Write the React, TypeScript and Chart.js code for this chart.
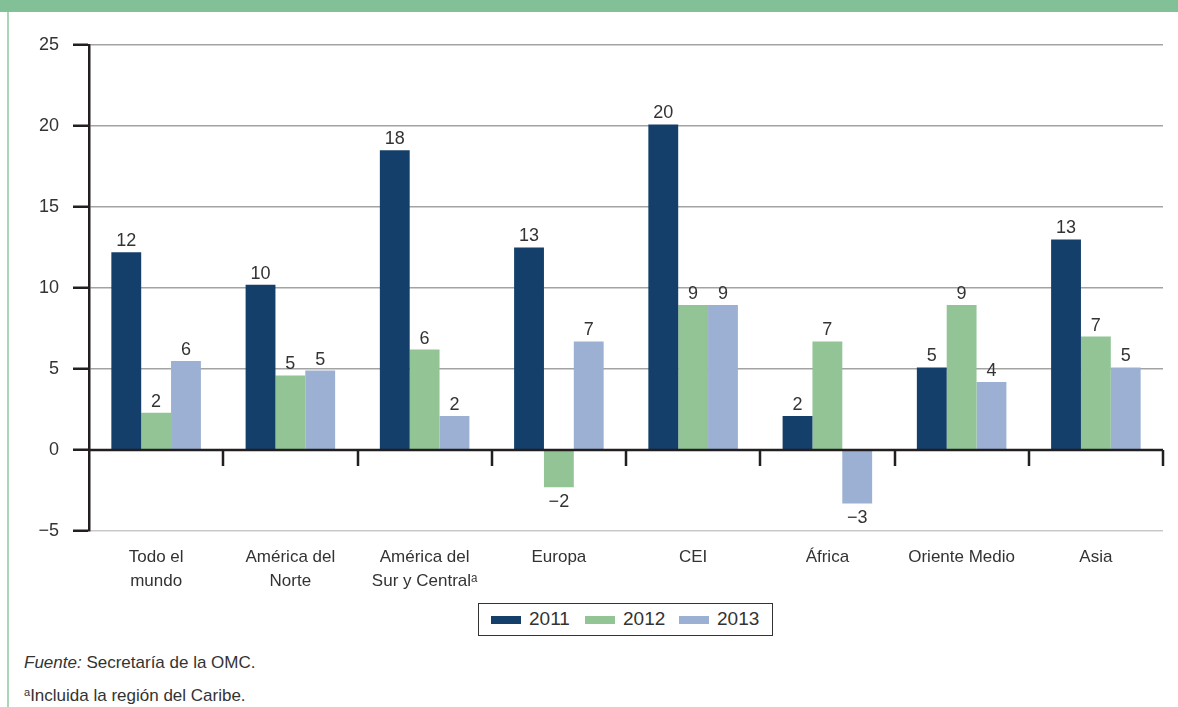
import React, { useEffect, useRef } from "react";
import { Chart, registerables } from "chart.js";

Chart.register(...registerables);

const categories: (string | string[])[] = [
  ["Todo el", "mundo"],
  ["América del", "Norte"],
  ["América del", "Sur y Centralᵃ"],
  "Europa",
  "CEI",
  "África",
  "Oriente Medio",
  "Asia",
];

const seriesNames = ["2011", "2012", "2013"];
const seriesColors = ["#143f6a", "#92c495", "#9bb0d2"];

const values2011 = [12.2, 10.2, 18.5, 12.5, 20.1, 2.1, 5.1, 13.0];
const values2012 = [2.3, 4.6, 6.2, -2.3, 8.95, 6.7, 8.95, 7.0];
const values2013 = [5.5, 4.9, 2.1, 6.7, 8.95, -3.3, 4.2, 5.1];

const labels2011 = ["12", "10", "18", "13", "20", "2", "5", "13"];
const labels2012 = ["2", "5", "6", "−2", "9", "7", "9", "7"];
const labels2013 = ["6", "5", "2", "7", "9", "−3", "4", "5"];

const yTicks = [-5, 0, 5, 10, 15, 20, 25];

const FONT = "'Liberation Sans', 'DejaVu Sans', Arial, sans-serif";

const allValues = [values2011, values2012, values2013];
const allLabels = [labels2011, labels2012, labels2013];

const zeroAxisPlugin = {
  id: "zeroAxis",
  afterDatasetsDraw(chart: any) {
    const { ctx, chartArea, scales } = chart;
    const y0 = scales.y.getPixelForValue(0);
    const n = categories.length;
    const w = (chartArea.right - chartArea.left) / n;
    ctx.save();
    ctx.strokeStyle = "#231f20";
    ctx.lineWidth = 2.5;
    ctx.beginPath();
    ctx.moveTo(chartArea.left, y0);
    ctx.lineTo(chartArea.right, y0);
    for (let i = 1; i <= n; i++) {
      const x = Math.round(chartArea.left + i * w);
      ctx.moveTo(x, y0);
      ctx.lineTo(x, y0 + 16);
    }
    ctx.stroke();
    ctx.restore();
  },
};

const dataLabelPlugin = {
  id: "dataLabels",
  afterDatasetsDraw(chart: any) {
    const { ctx } = chart;
    ctx.save();
    ctx.font = `18px ${FONT}`;
    ctx.fillStyle = "#333333";
    ctx.textAlign = "center";
    chart.data.datasets.forEach((ds: any, di: number) => {
      const meta = chart.getDatasetMeta(di);
      meta.data.forEach((bar: any, i: number) => {
        const v = allValues[di][i];
        const txt = allLabels[di][i];
        if (v >= 0) {
          ctx.textBaseline = "bottom";
          ctx.fillText(txt, bar.x, bar.y - 2);
        } else {
          ctx.textBaseline = "top";
          ctx.fillText(txt, bar.x, bar.y + 6);
        }
      });
    });
    ctx.restore();
  },
};

function BarChart() {
  const ref = useRef<HTMLCanvasElement>(null);
  useEffect(() => {
    if (!ref.current) return;
    const chart = new Chart(ref.current, {
      type: "bar",
      data: {
        labels: categories,
        datasets: seriesNames.map((name, i) => ({
          label: name,
          data: allValues[i],
          backgroundColor: seriesColors[i],
          borderWidth: 0,
          barPercentage: 1,
          categoryPercentage: 0.667,
        })),
      },
      options: {
        animation: false,
        responsive: false,
        maintainAspectRatio: false,
        layout: { padding: { left: 0, right: 15, top: 45, bottom: 0 } },
        plugins: {
          legend: { display: false },
          tooltip: { enabled: false },
        },
        scales: {
          x: {
            grid: { display: false },
            border: { display: false },
            ticks: {
              color: "#333333",
              font: { family: FONT, size: 17, lineHeight: 1.41 },
              padding: 6,
              maxRotation: 0,
              autoSkip: false,
            },
            afterFit: (s: any) => {
              s.height = 69;
            },
          },
          y: {
            min: -5,
            max: 25,
            afterBuildTicks: (s: any) => {
              s.ticks = yTicks.map((v) => ({ value: v }));
            },
            border: { display: true, color: "#231f20", width: 2.5 },
            grid: {
              color: (c: any) =>
                c.tick && c.tick.value === 0
                  ? "rgba(0,0,0,0)"
                  : c.tick && c.tick.value === -5
                  ? "#c9c9c9"
                  : "#a3a3a3",
              lineWidth: 1.5,
              tickColor: "#231f20",
              tickWidth: 2.5,
              tickLength: 16,
            },
            ticks: {
              color: "#333333",
              font: { family: FONT, size: 18 },
              padding: 14,
              callback: (v: any) => (v < 0 ? "−" + Math.abs(v) : String(v)),
            },
            afterFit: (s: any) => {
              s.width = 89;
            },
          },
        },
      },
      plugins: [zeroAxisPlugin, dataLabelPlugin],
    });
    return () => chart.destroy();
  }, []);
  return (
    <canvas
      ref={ref}
      width={1178}
      height={600}
      style={{ position: "absolute", left: 0, top: 0, width: 1178, height: 600 }}
    />
  );
}

export default function App() {
  return (
    <div
      style={{
        position: "fixed",
        left: 0,
        top: 0,
        width: 1178,
        height: 707,
        background: "#ffffff",
        overflow: "hidden",
        fontFamily: FONT,
        color: "#333333",
      }}
    >
      <div style={{ position: "absolute", left: 0, top: 0, width: 1178, height: 12, background: "#82c197" }} />
      <div style={{ position: "absolute", left: 7, top: 12, width: 2, height: 695, background: "#a9d6b6" }} />
      <BarChart />
      <div
        style={{
          position: "absolute",
          left: 478,
          top: 603,
          width: 293,
          height: 31,
          border: "1.5px solid #333333",
        }}
      >
        {seriesNames.map((name, i) => (
          <div key={name}>
            <div
              style={{
                position: "absolute",
                left: 12 + i * 94,
                top: 12,
                width: 30,
                height: 8,
                background: seriesColors[i],
              }}
            />
            <div
              style={{
                position: "absolute",
                left: 50 + i * 94,
                top: 3,
                fontSize: 19,
                lineHeight: "24px",
                color: "#333333",
              }}
            >
              {name}
            </div>
          </div>
        ))}
      </div>
      <div style={{ position: "absolute", left: 24, top: 651, fontSize: 17, lineHeight: "24px" }}>
        <i>Fuente:</i> Secretaría de la OMC.
      </div>
      <div style={{ position: "absolute", left: 24, top: 680, fontSize: 17, lineHeight: "24px" }}>
        <sup style={{ fontSize: 11, verticalAlign: "5px" }}>a</sup>Incluida la región del Caribe.
      </div>
    </div>
  );
}
